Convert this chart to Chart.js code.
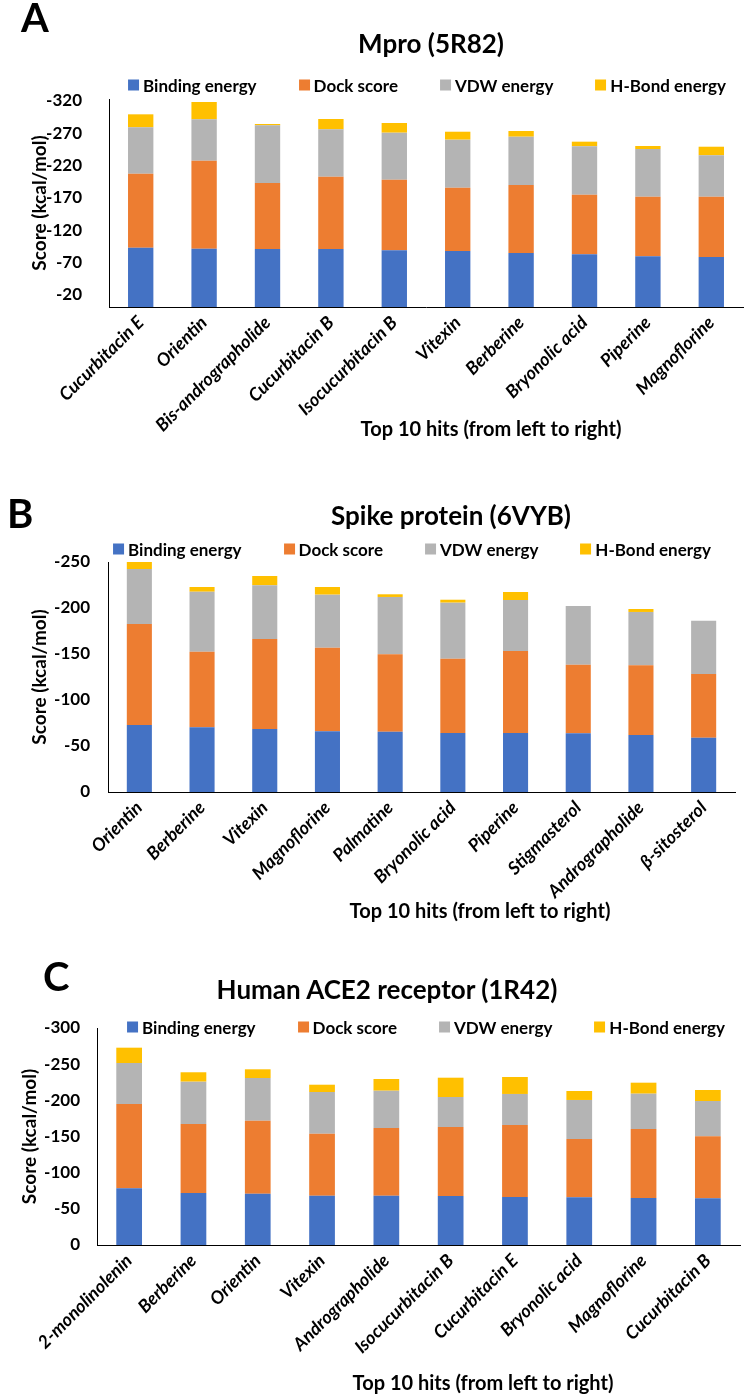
<!DOCTYPE html>
<html>
<head>
  <title>Top 10 hits - docking scores</title>
  <script src="https://cdn.jsdelivr.net/npm/chart.js"></script>
  <style>
    body { margin: 0; background: #fff; font-family: Lato, sans-serif; color: #000; }
    #page { position: relative; width: 745px; height: 1395px; overflow: hidden; }
    canvas { position: absolute; left: 0; }
    .txt { position: absolute; white-space: nowrap; font-weight: bold; line-height: 1; }
    .letter { font-size: 40px; transform: translateY(-50%); }
    .title { font-size: 26px; transform: translate(-50%, -50%); }
    .xtitle { font-size: 20px; transform: translate(-50%, -50%); }
    .legend { position: absolute; display: flex; gap: 42px; transform: translate(-50%, -50%);
              font-weight: bold; font-size: 17px; white-space: nowrap; line-height: 1; }
    .legend span.item { display: flex; align-items: center; }
    .legend span.box { width: 11px; height: 11px; margin-right: 4px; display: inline-block; }
  </style>
</head>
<body>
  <div id="page">
    <canvas id="chartA" width="745" height="455" style="top:0px"></canvas>
    <canvas id="chartB" width="745" height="470" style="top:455px"></canvas>
    <canvas id="chartC" width="745" height="470" style="top:925px"></canvas>

    <div class="txt letter" style="left:21px; top:17px">A</div>
    <div class="txt title" style="left:431px; top:43px">Mpro (5R82)</div>
    <div class="legend" id="legendA" style="left:427px; top:85px"></div>
    <div class="txt xtitle" style="left:491px; top:428px">Top 10 hits (from left to right)</div>

    <div class="txt letter" style="left:7px; top:513px">B</div>
    <div class="txt title" style="left:451px; top:515px">Spike protein (6VYB)</div>
    <div class="legend" id="legendB" style="left:412px; top:549px"></div>
    <div class="txt xtitle" style="left:480px; top:910px">Top 10 hits (from left to right)</div>

    <div class="txt letter" style="left:43px; top:976px">C</div>
    <div class="txt title" style="left:387px; top:989px">Human ACE2 receptor (1R42)</div>
    <div class="legend" id="legendC" style="left:426px; top:1027px"></div>
    <div class="txt xtitle" style="left:483px; top:1382px">Top 10 hits (from left to right)</div>
  </div>

  <script>
    // series shared by the three panels
    const seriesNames = ['Binding energy', 'Dock score', 'VDW energy', 'H-Bond energy'];
    const seriesColors = ['#4472C4', '#ED7D31', '#B4B4B4', '#FFC000'];

    // A: Mpro (5R82)
    const mproHits = ['Cucurbitacin E', 'Orientin', 'Bis-andrographolide', 'Cucurbitacin B', 'Isocucurbitacin B',
                      'Vitexin', 'Berberine', 'Bryonolic acid', 'Piperine', 'Magnoflorine'];
    const mproBinding = [-93.2, -91.6, -91.2, -91.1, -89.1, -88.0, -85.0, -82.9, -79.8, -78.8];
    const mproDock    = [-114.4, -136.1, -102.0, -111.8, -109.2, -98.0, -105.1, -92.2, -92.2, -93.2];
    const mproVdw     = [-71.7, -64.0, -89.2, -73.3, -72.7, -74.2, -74.7, -74.9, -73.8, -64.0];
    const mproHbond   = [-20.1, -26.8, -2.0, -16.0, -15.0, -12.3, -8.8, -7.1, -4.6, -13.3];
    const mproTicks   = [-320, -270, -220, -170, -120, -70, -20];

    // B: Spike protein (6VYB)
    const spikeHits = ['Orientin', 'Berberine', 'Vitexin', 'Magnoflorine', 'Palmatine', 'Bryonolic acid',
                       'Piperine', 'Stigmasterol', 'Andrographolide', 'β-sitosterol'];
    const spikeBinding = [-72.8, -70.3, -68.5, -66.0, -65.5, -64.1, -64.1, -63.8, -62.0, -59.0];
    const spikeDock    = [-109.8, -82.2, -97.8, -90.8, -84.2, -80.8, -89.2, -74.6, -75.7, -69.3];
    const spikeVdw     = [-59.8, -65.2, -58.4, -57.7, -62.3, -60.9, -55.4, -63.8, -58.0, -57.9];
    const spikeHbond   = [-8.6, -5.1, -10.1, -8.3, -2.9, -3.2, -8.7, 0, -3.2, 0];
    const spikeTicks   = [-250, -200, -150, -100, -50, 0];

    // C: Human ACE2 receptor (1R42)
    const ace2Hits = ['2-monolinolenin', 'Berberine', 'Orientin', 'Vitexin', 'Andrographolide', 'Isocucurbitacin B',
                      'Cucurbitacin E', 'Bryonolic acid', 'Magnoflorine', 'Cucurbitacin B'];
    const ace2Binding = [-78.4, -71.9, -70.9, -68.2, -68.2, -67.7, -66.4, -65.9, -65.0, -64.6];
    const ace2Dock    = [-116.6, -95.4, -101.0, -85.7, -93.6, -95.4, -99.5, -80.6, -95.4, -85.7];
    const ace2Vdw     = [-56.5, -58.5, -59.0, -57.6, -51.5, -41.5, -42.9, -54.0, -48.8, -48.8];
    const ace2Hbond   = [-21.3, -13.0, -12.0, -10.1, -16.2, -26.7, -23.5, -12.4, -15.2, -15.2];
    const ace2Ticks   = [-300, -250, -200, -150, -100, -50, 0];

    // html legend built from the chart's own legend items
    const htmlLegend = {
      id: 'htmlLegend',
      afterUpdate(chart, args, options) {
        const box = document.getElementById(options.containerID);
        box.innerHTML = '';
        const items = chart.options.plugins.legend.labels.generateLabels(chart);
        items.forEach(item => {
          const span = document.createElement('span');
          span.className = 'item';
          const sq = document.createElement('span');
          sq.className = 'box';
          sq.style.background = item.fillStyle;
          span.appendChild(sq);
          span.appendChild(document.createTextNode(item.text));
          box.appendChild(span);
        });
      }
    };

    function makeChart(id, legendId, hits, values, ticks, p) {
      const canvas = document.getElementById(id);
      return new Chart(canvas, {
        type: 'bar',
        data: {
          labels: hits,
          datasets: seriesNames.map((name, i) => ({
            label: name,
            data: values[i],
            backgroundColor: seriesColors[i],
            borderWidth: 0,
            barPercentage: 0.4,
            categoryPercentage: 1
          }))
        },
        options: {
          responsive: false,
          animation: false,
          layout: { padding: { top: p.top, right: canvas.width - p.right, left: 0, bottom: 0 } },
          plugins: {
            legend: { display: false },
            tooltip: { enabled: false },
            htmlLegend: { containerID: legendId }
          },
          scales: {
            x: {
              stacked: true,
              grid: { display: false, drawTicks: false },
              border: { color: '#000', width: 1 },
              ticks: {
                color: '#000',
                font: { family: 'Lato', size: 18, weight: 'bold', style: 'italic' },
                minRotation: 45, maxRotation: 45, autoSkip: false, padding: 5
              },
              afterFit: s => { s.height = canvas.height - p.bottom; }
            },
            y: {
              stacked: true,
              reverse: true,
              min: p.min,
              max: p.max,
              grid: { display: false, drawTicks: false },
              border: { color: '#000', width: 1 },
              ticks: {
                color: '#000',
                font: { family: 'Lato', size: 17, weight: 'bold' },
                padding: p.tickPad
              },
              title: {
                display: true,
                text: 'Score (kcal/mol)',
                color: '#000',
                font: { family: 'Lato', size: 19, weight: 'bold' },
                padding: { top: p.titleX - 11.4, bottom: 0 }
              },
              afterBuildTicks: s => { s.ticks = ticks.map(v => ({ value: v })); },
              afterFit: s => { s.width = p.left; }
            }
          }
        },
        plugins: [htmlLegend]
      });
    }

    makeChart('chartA', 'legendA', mproHits, [mproBinding, mproDock, mproVdw, mproHbond], mproTicks,
      { top: 99, bottom: 307, left: 109, right: 743, min: -323.1, max: -1.4, tickPad: 27, titleX: 40 });
    makeChart('chartB', 'legendB', spikeHits, [spikeBinding, spikeDock, spikeVdw, spikeHbond], spikeTicks,
      { top: 107, bottom: 337, left: 108, right: 735, min: -250, max: 0, tickPad: 18, titleX: 40 });
    makeChart('chartC', 'legendC', ace2Hits, [ace2Binding, ace2Dock, ace2Vdw, ace2Hbond], ace2Ticks,
      { top: 103, bottom: 320, left: 97, right: 740, min: -300, max: 0, tickPad: 17, titleX: 29.5 });
  </script>
</body>
</html>
